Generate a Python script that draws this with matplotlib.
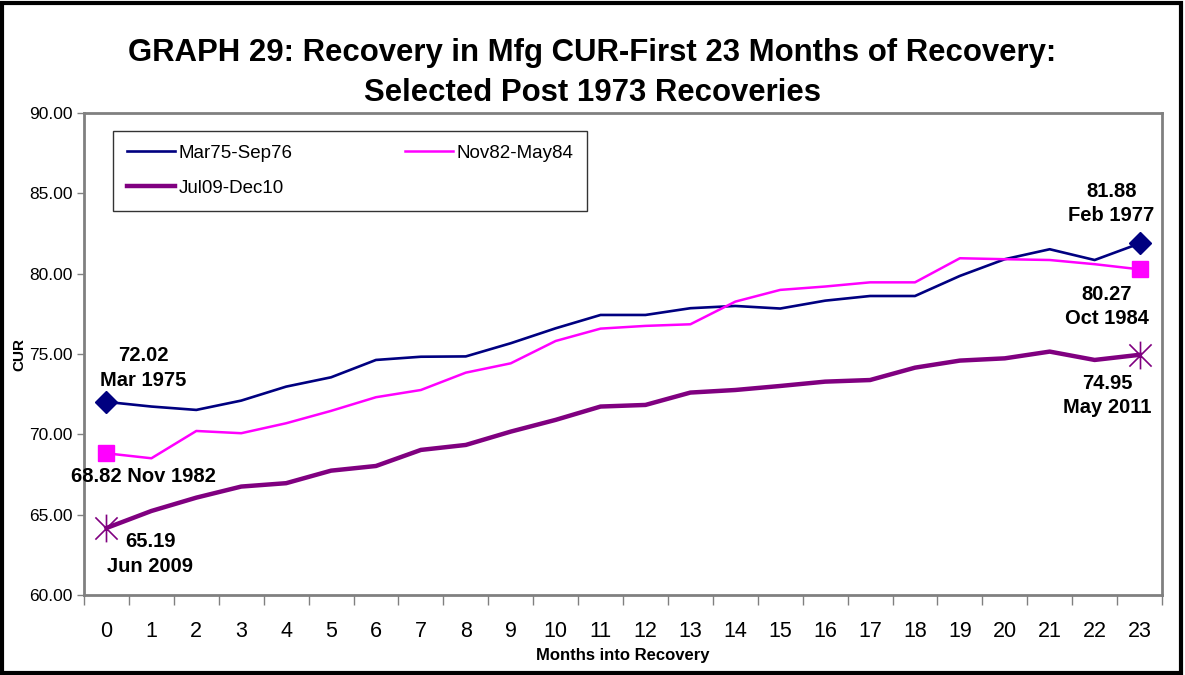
import matplotlib.pyplot as plt
from matplotlib.patches import Rectangle
from matplotlib.lines import Line2D
from matplotlib.path import Path
import numpy as np

plt.rcParams['font.family'] = ['Liberation Sans', 'DejaVu Sans']

months = list(range(24))
month_labels = [str(m) for m in months]

mar75 = [72.02, 71.73, 71.52, 72.10, 72.97, 73.55, 74.63, 74.83, 74.85, 75.67,
         76.60, 77.43, 77.43, 77.85, 77.99, 77.83, 78.32, 78.61, 78.61, 79.86,
         80.90, 81.52, 80.85, 81.88]
nov82 = [68.82, 68.51, 70.21, 70.07, 70.69, 71.46, 72.31, 72.76, 73.84, 74.42,
         75.81, 76.58, 76.75, 76.85, 78.26, 78.99, 79.20, 79.46, 79.46, 80.96,
         80.90, 80.85, 80.59, 80.27]
jul09 = [64.17, 65.23, 66.06, 66.75, 66.96, 67.74, 68.03, 69.03, 69.34, 70.17,
         70.90, 71.73, 71.83, 72.60, 72.76, 73.01, 73.28, 73.38, 74.15, 74.59,
         74.73, 75.15, 74.63, 74.95]

series_names = ['Mar75-Sep76', 'Nov82-May84', 'Jul09-Dec10']
start_labels = ['72.02\nMar 1975', '68.82 Nov 1982', '65.19\nJun 2009']
end_labels = ['81.88\nFeb 1977', '80.27\nOct 1984', '74.95\nMay 2011']

colors = ['#000080', '#FF00FF', '#800080']
widths = [1.9, 1.8, 3.2]

# star marker: vertical bar plus an X
star = Path([(0, -1), (0, 1), (-0.8, -0.8), (0.8, 0.8), (-0.8, 0.8), (0.8, -0.8)],
            [Path.MOVETO, Path.LINETO, Path.MOVETO, Path.LINETO, Path.MOVETO, Path.LINETO])

fig = plt.figure(figsize=(11.85, 6.75), dpi=100)
ax = fig.add_axes([0.0709, 0.1185, 0.9097, 0.7141])

last = len(months) - 1
ax.plot(months, mar75, color=colors[0], lw=widths[0],
        marker='D', markevery=[0, last], markersize=11)
ax.plot(months, nov82, color=colors[1], lw=widths[1],
        marker='s', markevery=[0, last], markersize=12)
ax.plot(months, jul09, color=colors[2], lw=widths[2])
ax.plot([months[0], months[last]], [jul09[0], jul09[last]], ls='none',
        marker=star, markersize=20, markeredgecolor=colors[2], markeredgewidth=1.2)

ann = dict(textcoords='offset pixels', ha='center', va='center',
           fontsize=14.5, fontweight='bold', linespacing=1.35)
ax.annotate(start_labels[0], (months[0], mar75[0]), xytext=(37, 34), **ann)
ax.annotate(start_labels[1], (months[0], nov82[0]), xytext=(37, -23), **ann)
ax.annotate(start_labels[2], (months[0], jul09[0]), xytext=(44, -26), **ann)
ax.annotate(end_labels[0], (months[last], mar75[last]), xytext=(-28, 40), **ann)
ax.annotate(end_labels[1], (months[last], nov82[last]), xytext=(-33, -37), **ann)
ax.annotate(end_labels[2], (months[last], jul09[last]), xytext=(-32, -41), **ann)

ax.set_xlim(-0.5, 23.5)
ax.set_ylim(60, 90)
ax.set_yticks(np.arange(60, 91, 5))
ax.set_yticklabels([f'{v:.2f}' for v in np.arange(60, 91, 5)], fontsize=12.5)
ax.set_xticks(months)
ax.set_xticklabels(month_labels, fontsize=15.5)
ax.set_xticks(np.arange(-0.5, 24, 1), minor=True)
ax.tick_params(axis='x', which='major', length=0, pad=19)
ax.tick_params(axis='x', which='minor', length=7, color='#808080', width=1)
ax.tick_params(axis='y', length=5, color='#808080', width=1, pad=3)

for s in ax.spines.values():
    s.set_color('#808080')
    s.set_linewidth(2)

ax.set_xlabel('Months into Recovery', fontsize=12, fontweight='bold', labelpad=4)
ax.set_ylabel('CUR', fontsize=11, fontweight='bold', labelpad=2)

# legend: row-wise order like the original (column-major fill in matplotlib)
handles = [Line2D([], [], color=c, lw=w) for c, w in zip(colors, widths)]
order = [0, 2, 1]
leg = ax.legend([handles[i] for i in order], [series_names[i] for i in order],
                loc='upper left', bbox_to_anchor=(0.0265, 0.963), ncol=2,
                fontsize=13.5, frameon=True, fancybox=False, handlelength=2.6,
                handletextpad=0.15, columnspacing=6.0, borderpad=0.75,
                labelspacing=0.95, borderaxespad=0)
leg.get_frame().set_edgecolor('black')
leg.get_frame().set_linewidth(1)

fig.text(0.5, 0.922, 'GRAPH 29: Recovery in Mfg CUR-First 23 Months of Recovery:',
         ha='center', va='center', fontsize=22.4, fontweight='bold')
fig.text(0.5, 0.862, 'Selected Post 1973 Recoveries',
         ha='center', va='center', fontsize=22.4, fontweight='bold')

fig.add_artist(Rectangle((0.002, 0.003), 0.995, 0.993, fill=False, lw=3,
                         edgecolor='black', transform=fig.transFigure))

plt.savefig('out.png', dpi=100)
plt.close()
